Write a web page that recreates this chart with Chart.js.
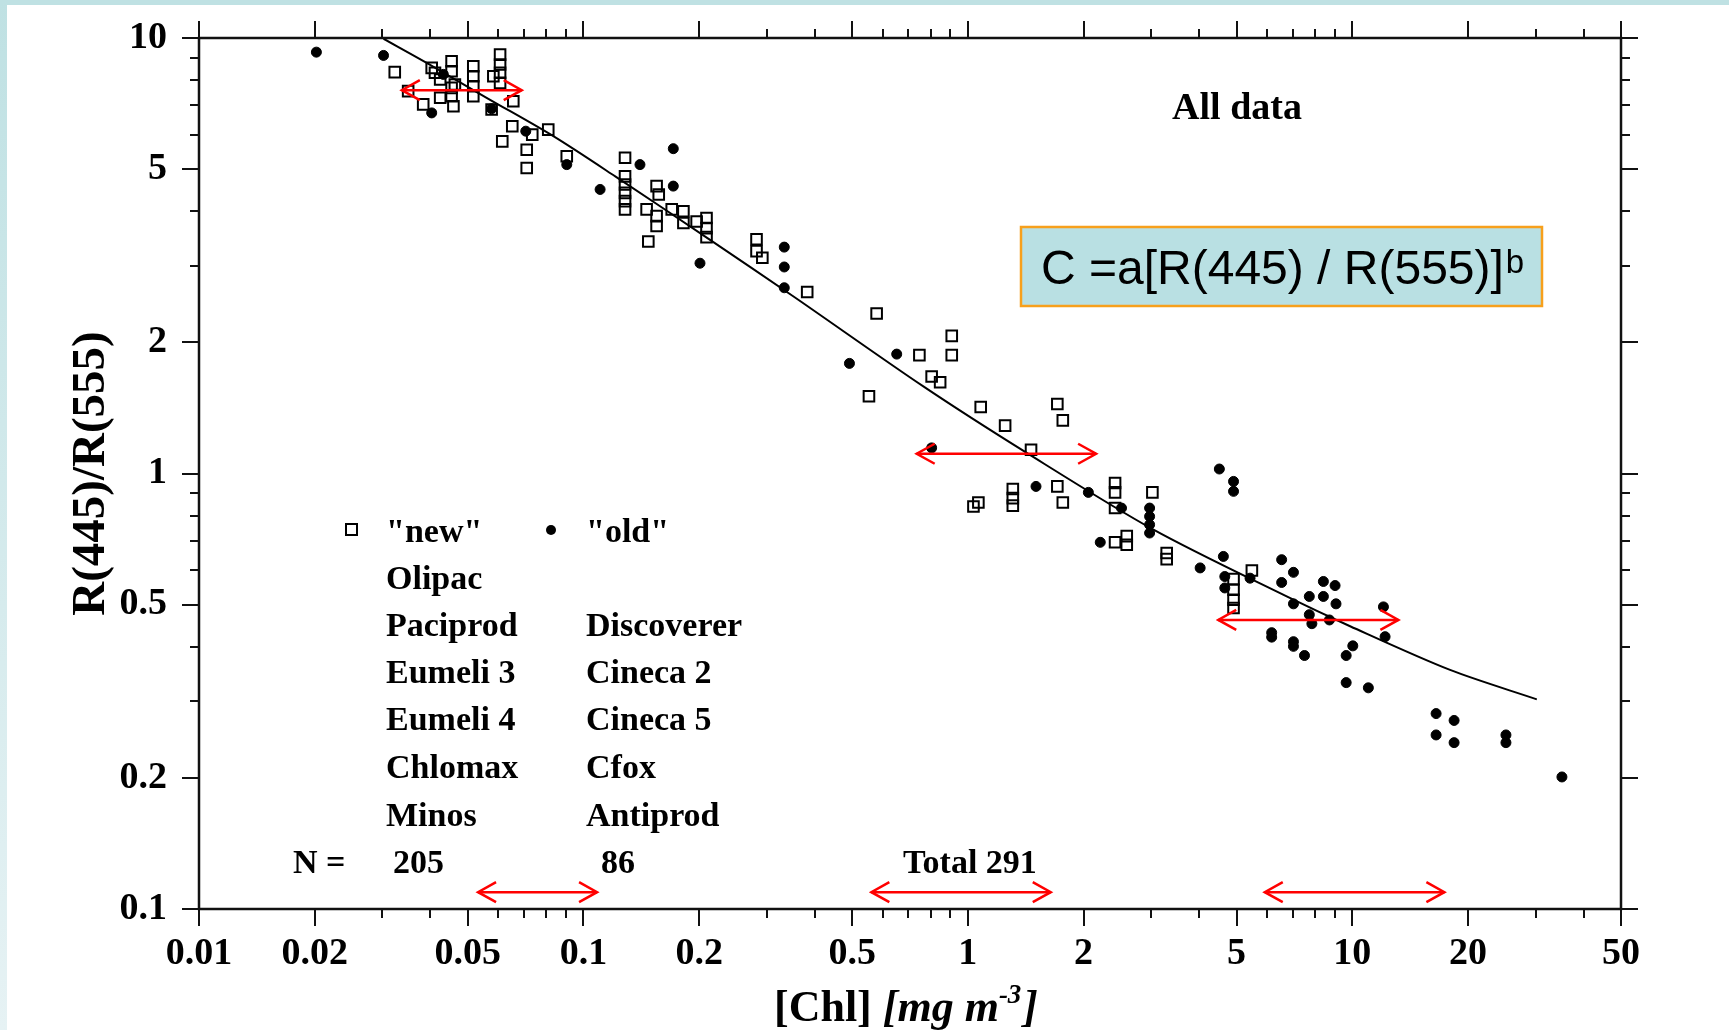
<!DOCTYPE html>
<html>
<head>
<meta charset="utf-8">
<title>R(445)/R(555) vs [Chl]</title>
<script src="https://cdn.jsdelivr.net/npm/chart.js@4.4.1/dist/chart.umd.min.js"></script>
<style>
  html, body { margin: 0; padding: 0; background: #fff; overflow: hidden; }
  #wrap { position: relative; width: 1729px; height: 1030px; }
  #topBand { position: absolute; left: 0; top: 0; width: 1729px; height: 5px; background: #bfe1e3; }
  #leftBand { position: absolute; left: 0; top: 0; width: 7px; height: 1030px;
              background: linear-gradient(to bottom, #bfe1e3, #e6f2f4); }
  #chart { position: absolute; left: 0; top: 0; }
</style>
</head>
<body>
<div id="wrap">
  <div id="topBand"></div>
  <div id="leftBand"></div>
  <canvas id="chart" width="1729" height="1030"></canvas>
</div>
<script>
// ---------------------------------------------
// data
// ---------------------------------------------

// "new" data (open squares): [Chl] mg m-3 and R(445)/R(555)
const newChl = [
  0.0323, 0.0403, 0.0411, 0.0454, 0.0454, 0.0454, 0.0454, 0.0459, 0.0424, 0.0424,
  0.0383, 0.0350, 0.0463, 0.0517, 0.0517, 0.0517, 0.0517, 0.0607, 0.0607, 0.0607,
  0.0607, 0.0583, 0.0657, 0.0577, 0.0653, 0.0615, 0.0712, 0.0712, 0.0736, 0.0810,
  0.0905, 0.1283, 0.1283, 0.1283, 0.1283, 0.1283, 0.1283, 0.155, 0.157, 0.146,
  0.155, 0.182, 0.197, 0.209,
  0.155, 0.1475, 0.1697, 0.182, 0.209, 0.209, 0.282, 0.282, 0.292, 0.382,
  0.579, 0.908, 0.908, 0.748, 0.805, 0.847,
  0.553, 1.080, 1.250, 1.709, 1.766, 1.460, 1.034, 1.065, 1.309, 1.309,
  1.309, 1.709, 1.766, 2.415, 2.415, 2.415, 3.02, 2.415, 2.59, 2.59,
  3.29, 3.29, 4.91, 4.91, 5.48, 4.91, 4.91
];
const newRatio = [
  8.35, 8.54, 8.32, 8.84, 8.39, 7.68, 7.35, 6.97, 8.03, 7.29,
  7.04, 7.55, 7.82, 8.61, 8.17, 7.75, 7.35, 9.16, 8.69, 8.32,
  7.89, 8.17, 7.16, 6.85, 6.27, 5.79, 5.54, 5.03, 6.00, 6.16,
  5.35, 5.31, 4.81, 4.61, 4.41, 4.22, 4.04, 4.57, 4.37, 4.04,
  3.90, 4.00, 3.79, 3.86,
  3.70, 3.41, 4.04, 3.76, 3.66, 3.49, 3.45, 3.24, 3.13, 2.61,
  2.33, 2.07, 1.87, 1.87, 1.67, 1.62,
  1.504, 1.421, 1.288, 1.444, 1.324, 1.134, 0.840, 0.858, 0.921, 0.878,
  0.844, 0.934, 0.858, 0.951, 0.905, 0.833, 0.905, 0.695, 0.718, 0.686,
  0.657, 0.636, 0.572, 0.541, 0.599, 0.513, 0.491
];

// "old" data (filled dots)
const oldChl = [
  0.0202, 0.0302, 0.0403, 0.0432, 0.0577, 0.0708, 0.0905, 0.1713, 0.1403, 0.1105,
  0.1713, 0.201, 0.333, 0.333, 0.333, 0.492, 0.653,
  0.805, 1.504, 2.058, 2.51, 2.97, 2.97, 2.97, 2.97, 2.21, 4.51,
  4.91, 4.91, 4.02, 4.62, 4.66, 4.66, 6.55, 7.03, 6.55, 5.42,
  8.41, 9.02, 7.73, 8.41, 9.07, 7.03, 12.05, 7.73, 7.85, 8.72,
  12.17, 6.17, 6.17, 7.03, 7.03, 7.51, 10.03, 9.64, 9.64, 11.01,
  16.52, 18.40, 16.52, 18.40, 25.1, 25.1, 35.1
];
const oldRatio = [
  9.28, 9.12, 6.73, 8.25, 6.88, 6.11, 5.12, 5.57, 5.12, 4.49,
  4.57, 3.04, 3.31, 2.98, 2.67, 1.79, 1.88,
  1.145, 0.934, 0.905, 0.833, 0.833, 0.797, 0.763, 0.730, 0.695, 1.024,
  0.959, 0.910, 0.607, 0.645, 0.580, 0.546, 0.634, 0.593, 0.562, 0.575,
  0.565, 0.553, 0.522, 0.522, 0.502, 0.502, 0.494, 0.474, 0.452, 0.461,
  0.422, 0.431, 0.421, 0.411, 0.401, 0.382, 0.402, 0.382, 0.331, 0.322,
  0.281, 0.271, 0.251, 0.241, 0.251, 0.241, 0.201
];

// fitted curve C = a[R(445)/R(555)]^b, points taken along the drawn line
const fitChl   = [0.0302, 0.0391, 0.056, 0.0835, 0.121, 0.2135, 0.352, 0.766, 1.423, 3.04, 6.75, 9.87, 17.96, 30.2];
const fitRatio = [9.96, 8.77, 7.29, 5.95, 4.81, 3.44, 2.55, 1.585, 1.115, 0.743, 0.522, 0.446, 0.354, 0.303];

// red double arrows (Chl range at a given ratio level)
const arrowFrom  = [0.0337, 0.736, 4.48, 0.0532, 0.561, 5.92];
const arrowTo    = [0.0691, 2.156, 13.18, 0.1085, 1.643, 17.36];
const arrowLevel = [7.59, 1.110, 0.461, 0.1093, 0.1093, 0.1093];

// axis ticks
const xMajor = [0.01, 0.02, 0.05, 0.1, 0.2, 0.5, 1, 2, 5, 10, 20, 50];
const xLabels = ['0.01', '0.02', '0.05', '0.1', '0.2', '0.5', '1', '2', '5', '10', '20', '50'];
const xMinor = [0.03, 0.04, 0.06, 0.07, 0.08, 0.09, 0.3, 0.4, 0.6, 0.7, 0.8, 0.9,
                3, 4, 6, 7, 8, 9, 30, 40];
const yMajor = [0.1, 0.2, 0.5, 1, 2, 5, 10];
const yLabels = ['0.1', '0.2', '0.5', '1', '2', '5', '10'];
const yMinor = [0.3, 0.4, 0.6, 0.7, 0.8, 0.9, 3, 4, 6, 7, 8, 9];

// ---------------------------------------------
// helpers
// ---------------------------------------------
const SERIF = '"Liberation Serif", "Times New Roman", serif';
const SANS = '"Liberation Sans", Arial, sans-serif';
const MAJOR_LEN = 17;
const MINOR_LEN = 9;

function pairs(xs, ys) {
  return xs.map((v, i) => ({ x: v, y: ys[i] }));
}

function labelFor(v, majors, labels) {
  const i = majors.findIndex(m => Math.abs(v - m) / m < 1e-6);
  return i >= 0 ? labels[i] : '';
}

// arrow shafts as two-point line datasets
const arrowSets = arrowLevel.map((lv, i) => ({
  label: 'range' + i,
  data: [{ x: arrowFrom[i], y: lv }, { x: arrowTo[i], y: lv }],
  showLine: true,
  borderColor: '#ff0000',
  borderWidth: 2.5,
  pointRadius: 0,
  tension: 0,
  order: 0
}));

// frame with outward major/minor ticks on all four sides
const frameAndTicks = {
  id: 'frameAndTicks',
  afterDraw(chart) {
    const { ctx, chartArea: a, scales: { x, y } } = chart;
    ctx.save();
    ctx.strokeStyle = '#111';
    ctx.lineWidth = 2.5;
    ctx.strokeRect(a.left, a.top, a.right - a.left, a.bottom - a.top);
    ctx.lineWidth = 2;
    ctx.beginPath();
    xMajor.concat(xMinor).forEach(v => {
      const len = xMajor.includes(v) ? MAJOR_LEN : MINOR_LEN;
      const px = Math.round(x.getPixelForValue(v));
      ctx.moveTo(px, a.bottom); ctx.lineTo(px, a.bottom + len);
      ctx.moveTo(px, a.top); ctx.lineTo(px, a.top - len);
    });
    yMajor.concat(yMinor).forEach(v => {
      const len = yMajor.includes(v) ? MAJOR_LEN : MINOR_LEN;
      const py = Math.round(y.getPixelForValue(v));
      ctx.moveTo(a.left, py); ctx.lineTo(a.left - len, py);
      ctx.moveTo(a.right, py); ctx.lineTo(a.right + len, py);
    });
    ctx.stroke();
    ctx.restore();
  }
};

// open chevron heads on both ends of each red arrow
const arrowHeads = {
  id: 'arrowHeads',
  afterDatasetsDraw(chart) {
    const { ctx, scales: { x, y } } = chart;
    ctx.save();
    ctx.strokeStyle = '#ff0000';
    ctx.lineWidth = 2.5;
    arrowLevel.forEach((lv, i) => {
      const py = y.getPixelForValue(lv);
      const x1 = x.getPixelForValue(arrowFrom[i]);
      const x2 = x.getPixelForValue(arrowTo[i]);
      ctx.beginPath();
      ctx.moveTo(x1 + 18, py - 10); ctx.lineTo(x1, py); ctx.lineTo(x1 + 18, py + 10);
      ctx.moveTo(x2 - 18, py - 10); ctx.lineTo(x2, py); ctx.lineTo(x2 - 18, py + 10);
      ctx.stroke();
    });
    ctx.restore();
  }
};

// annotations: legend block, "All data", formula box, x title
const annotations = {
  id: 'annotations',
  afterDraw(chart) {
    const { ctx } = chart;
    ctx.save();
    ctx.fillStyle = '#000';
    ctx.textBaseline = 'alphabetic';

    // "All data"
    ctx.font = 'bold 38px ' + SERIF;
    ctx.textAlign = 'center';
    ctx.fillText('All data', 1237, 119);

    // legend block
    ctx.font = 'bold 34px ' + SERIF;
    ctx.textAlign = 'left';
    const rows = [531, 578, 625, 672, 719, 767, 815, 862];
    const col1 = ['"new"', 'Olipac', 'Paciprod', 'Eumeli 3', 'Eumeli 4', 'Chlomax', 'Minos'];
    const col2 = ['"old"', '', 'Discoverer', 'Cineca 2', 'Cineca 5', 'Cfox', 'Antiprod'];
    col1.forEach((t, i) => ctx.fillText(t, 386, rows[i] + 11));
    col2.forEach((t, i) => { if (t) ctx.fillText(t, 586, rows[i] + 11); });
    ctx.fillText('N =', 293, rows[7] + 11);
    ctx.fillText('205', 393, rows[7] + 11);
    ctx.fillText('86', 601, rows[7] + 11);
    ctx.fillText('Total 291', 903, rows[7] + 11);

    // legend markers
    ctx.strokeStyle = '#000';
    ctx.lineWidth = 2;
    ctx.strokeRect(346, 524, 11, 11);
    ctx.beginPath();
    ctx.arc(551, 530, 5, 0, Math.PI * 2);
    ctx.fill();

    // formula box
    ctx.fillStyle = '#b9e0e3';
    ctx.fillRect(1021, 227, 521, 79);
    ctx.strokeStyle = '#f7a01c';
    ctx.lineWidth = 2.5;
    ctx.strokeRect(1021, 227, 521, 79);
    ctx.fillStyle = '#000';
    ctx.font = '48px ' + SANS;
    const main = 'C =a[R(445) / R(555)]';
    ctx.fillText(main, 1041, 284);
    const w = ctx.measureText(main).width;
    ctx.font = '33px ' + SANS;
    ctx.fillText('b', 1041 + w + 2, 273);

    // x axis title: [Chl] [mg m-3]
    const base = 1021;
    ctx.font = 'bold 44px ' + SERIF;
    ctx.fillText('[Chl]', 774, base);
    let cx = 774 + ctx.measureText('[Chl] ').width;
    ctx.font = 'italic bold 44px ' + SERIF;
    ctx.fillText('[mg m', cx, base);
    cx += ctx.measureText('[mg m').width;
    ctx.font = 'italic bold 27px ' + SERIF;
    ctx.fillText('-3', cx, base - 18);
    cx += ctx.measureText('-3').width + 2;
    ctx.font = 'italic bold 44px ' + SERIF;
    ctx.fillText(']', cx, base);

    ctx.restore();
  }
};

// ---------------------------------------------
// chart
// ---------------------------------------------
const ctx = document.getElementById('chart').getContext('2d');
new Chart(ctx, {
  type: 'scatter',
  data: {
    datasets: [
      ...arrowSets,
      {
        label: '"new"',
        data: pairs(newChl, newRatio),
        pointStyle: 'rect',
        pointRadius: 7.5,
        backgroundColor: 'rgba(0,0,0,0)',
        borderColor: '#000',
        borderWidth: 2,
        order: 1
      },
      {
        label: '"old"',
        data: pairs(oldChl, oldRatio),
        pointStyle: 'circle',
        pointRadius: 5,
        backgroundColor: '#000',
        borderColor: '#000',
        borderWidth: 1,
        order: 2
      },
      {
        label: 'fit',
        data: pairs(fitChl, fitRatio),
        showLine: true,
        borderColor: '#000',
        borderWidth: 2,
        pointRadius: 0,
        tension: 0.3,
        order: 3
      }
    ]
  },
  options: {
    responsive: false,
    devicePixelRatio: 1,
    animation: false,
    events: [],
    layout: { padding: { left: 0, right: 108, top: 38, bottom: 0 } },
    plugins: {
      legend: { display: false },
      tooltip: { enabled: false }
    },
    scales: {
      x: {
        type: 'logarithmic',
        min: 0.01,
        max: 50,
        afterBuildTicks: s => { s.ticks = xMajor.concat(xMinor).sort((a, b) => a - b).map(v => ({ value: v })); },
        afterFit: s => { s.height = 121; },
        grid: { display: false, drawTicks: false },
        border: { display: false },
        ticks: {
          autoSkip: false,
          maxRotation: 0,
          minRotation: 0,
          padding: 22,
          color: '#000',
          font: { family: SERIF, size: 38, weight: 'bold' },
          callback: v => labelFor(v, xMajor, xLabels)
        }
      },
      y: {
        type: 'logarithmic',
        min: 0.1,
        max: 10,
        afterBuildTicks: s => { s.ticks = yMajor.concat(yMinor).sort((a, b) => a - b).map(v => ({ value: v })); },
        afterFit: s => { s.width = 199; s.paddingTop = 0; s.paddingBottom = 0; },
        grid: { display: false, drawTicks: false },
        border: { display: false },
        title: {
          display: true,
          text: 'R(445)/R(555)',
          color: '#000',
          font: { family: SERIF, size: 47, weight: 'bold' },
          padding: { top: 64, bottom: 0 }
        },
        ticks: {
          autoSkip: false,
          padding: 32,
          color: '#000',
          font: { family: SERIF, size: 38, weight: 'bold' },
          callback: v => labelFor(v, yMajor, yLabels)
        }
      }
    }
  },
  plugins: [frameAndTicks, arrowHeads, annotations]
});
</script>
</body>
</html>
